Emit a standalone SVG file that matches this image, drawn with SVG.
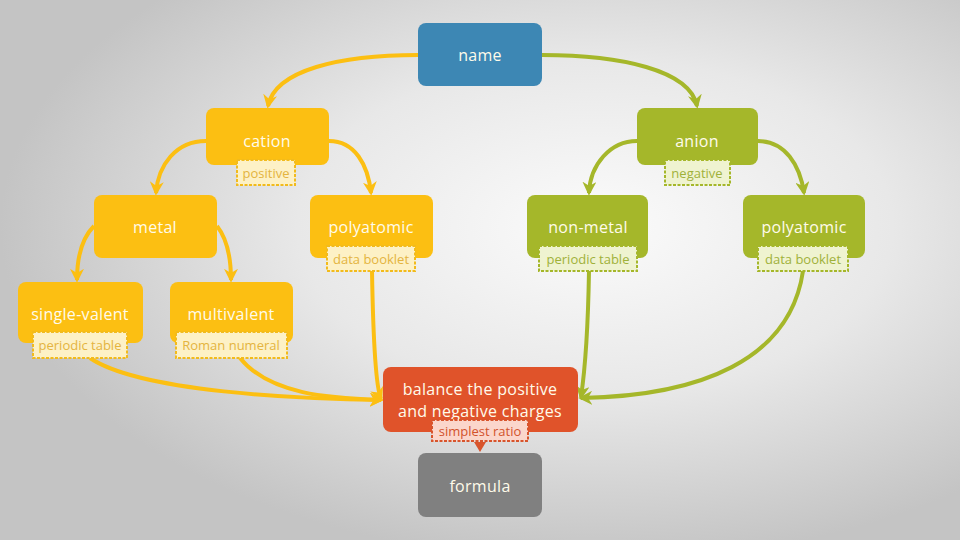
<svg xmlns="http://www.w3.org/2000/svg" width="960" height="540" viewBox="0 0 960 540">
<defs>
<radialGradient id="bg" cx="0.62" cy="0.42" r="0.62">
<stop offset="0" stop-color="#fbfbfb"/>
<stop offset="0.5" stop-color="#e8e8e8"/>
<stop offset="1" stop-color="#c4c4c4"/>
</radialGradient>
<marker id="ay" viewBox="0 0 10 10" refX="8" refY="5" markerWidth="14" markerHeight="14" markerUnits="userSpaceOnUse" orient="auto">
<path d="M0,0 L10,5 L0,10 L3,5 z" fill="#fcbf12"/>
</marker>
<marker id="ag" viewBox="0 0 10 10" refX="8" refY="5" markerWidth="14" markerHeight="14" markerUnits="userSpaceOnUse" orient="auto">
<path d="M0,0 L10,5 L0,10 L3,5 z" fill="#a5b72a"/>
</marker>
<style>
.n{font-family:"Open Sans","DejaVu Sans",sans-serif;font-size:16px;font-weight:500;letter-spacing:0.3px;fill:#fffbea;text-anchor:middle;dominant-baseline:central}
.l{font-family:"Open Sans","DejaVu Sans",sans-serif;font-size:13px;text-anchor:middle;dominant-baseline:central}
.y{fill:#fcbf12}
.g{fill:#a5b72a}
.ly{fill:#fdf1c6;stroke:#f2bb1c;stroke-width:2;stroke-dasharray:3 1.5}
.lg{fill:#eff3d0;stroke:#a5b72a;stroke-width:2;stroke-dasharray:3 1.5}
.lo{fill:#fbd6cb;stroke:#d8542c;stroke-width:2;stroke-dasharray:3 1.5}
.ty{fill:#e4b440}
.tg{fill:#9fb13a}
.to{fill:#d2522c}
.cy{fill:none;stroke:#fcbf12;stroke-width:4;marker-end:url(#ay)}
.cg{fill:none;stroke:#a5b72a;stroke-width:4;marker-end:url(#ag)}
</style>
</defs>
<rect width="960" height="540" fill="url(#bg)"/>
<g id="connectors">
<path class="cy" d="M418,55 C340,55 275,70 268,106"/>
<path class="cg" d="M542,55 C620,55 690,70 697,106"/>
<path class="cy" d="M206,141 C176,141 158,165 156,193"/>
<path class="cy" d="M329,141 C355,141 368,165 371,193"/>
<path class="cg" d="M637,141 C610,141 590,165 589,193"/>
<path class="cg" d="M758,141 C785,141 800,165 804,193"/>
<path class="cy" d="M94,226 C80,240 77,262 77,280"/>
<path class="cy" d="M217,226 C228,240 231,262 231,280"/>
<path class="cy" d="M90,358 C140,392 300,399 381,400"/>
<path class="cy" d="M240,358 C270,395 330,398 381,400"/>
<path class="cy" d="M372,271 C373,330 375,385 381,399"/>
<path class="cg" d="M589,271 C588,330 585,370 581,397"/>
<path class="cg" d="M803,271 C790,360 700,396 581,398"/>
<polygon points="474,442 486,442 480,452" fill="#d8542c"/>
</g>
<g id="name"><rect x="418" y="23" width="124" height="63" rx="8" fill="#3d87b4"/><text class="n" x="480" y="55">name</text></g>
<g id="cation"><rect x="206" y="108" width="123" height="57" rx="8" class="y"/><text class="n" x="267" y="141">cation</text>
<rect x="237" y="160" width="58" height="25" class="ly"/><text class="l ty" x="266" y="172.5">positive</text></g>
<g id="anion"><rect x="637" y="108" width="121" height="57" rx="8" class="g"/><text class="n" x="697" y="141">anion</text>
<rect x="665" y="160" width="65" height="25" class="lg"/><text class="l tg" x="697" y="172.5">negative</text></g>
<g id="metal"><rect x="94" y="195" width="123" height="63" rx="8" class="y"/><text class="n" x="155" y="227">metal</text></g>
<g id="polyatomic-cation"><rect x="310" y="195" width="123" height="63" rx="8" class="y"/><text class="n" x="371" y="227">polyatomic</text>
<rect x="327" y="246" width="88" height="25" class="ly"/><text class="l ty" x="371" y="258.5">data booklet</text></g>
<g id="non-metal"><rect x="527" y="195" width="121" height="63" rx="8" class="g"/><text class="n" x="588" y="227">non-metal</text>
<rect x="539" y="246" width="98" height="25" class="lg"/><text class="l tg" x="588" y="258.5">periodic table</text></g>
<g id="polyatomic-anion"><rect x="743" y="195" width="122" height="63" rx="8" class="g"/><text class="n" x="804" y="227">polyatomic</text>
<rect x="758" y="246" width="90" height="25" class="lg"/><text class="l tg" x="803" y="258.5">data booklet</text></g>
<g id="single-valent"><rect x="18" y="282" width="125" height="61" rx="8" class="y"/><text class="n" x="80" y="314">single-valent</text>
<rect x="33" y="332" width="94" height="26" class="ly"/><text class="l ty" x="80" y="345">periodic table</text></g>
<g id="multivalent"><rect x="170" y="282" width="123" height="61" rx="8" class="y"/><text class="n" x="231" y="314">multivalent</text>
<rect x="176" y="332" width="111" height="26" class="ly"/><text class="l ty" x="231" y="345">Roman numeral</text></g>
<g id="balance"><rect x="383" y="367" width="195" height="65" rx="8" fill="#e0532a"/><text class="n" x="480" y="389">balance the positive</text><text class="n" x="480" y="411">and negative charges</text>
<rect x="432" y="420" width="96" height="21" class="lo"/><text class="l to" x="480" y="430.5">simplest ratio</text></g>
<g id="formula"><rect x="418" y="453" width="124" height="64" rx="8" fill="#808080"/><text class="n" x="480" y="486">formula</text></g>
</svg>
